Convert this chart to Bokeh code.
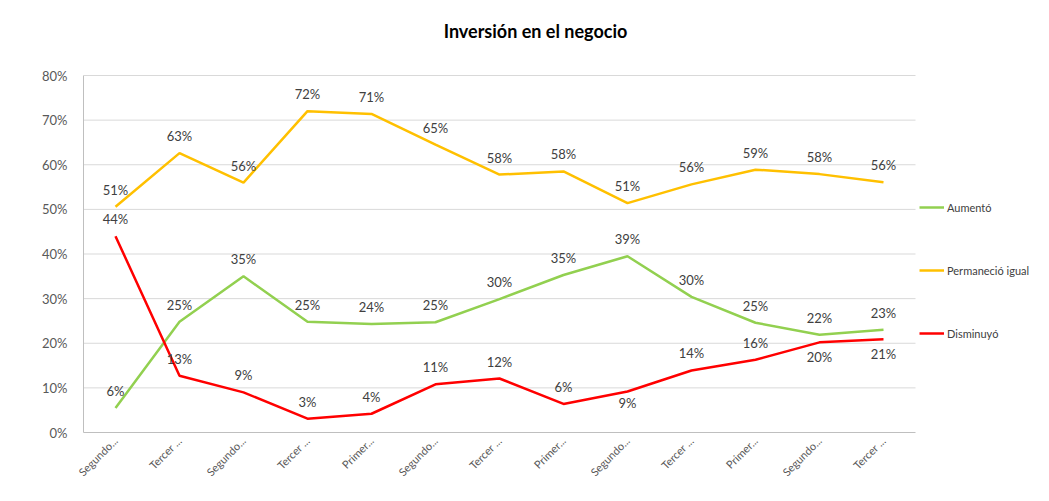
from bokeh.plotting import figure
from bokeh.models import ColumnDataSource, LabelSet, Label, Legend, LegendItem, NumeralTickFormatter, FixedTicker, Range1d
from bokeh.core.properties import value
from bokeh.embed import file_html
from bokeh.resources import INLINE
import math

title_text = "Inversión en el negocio"
categories = ["Segundo...", "Tercer ...", "Segundo...", "Tercer ...", "Primer...", "Segundo...",
              "Tercer ...", "Primer...", "Segundo...", "Tercer ...", "Primer...", "Segundo...", "Tercer ..."]
aumento = [5.5, 24.8, 35.0, 24.8, 24.3, 24.7, 29.9, 35.3, 39.5, 30.4, 24.6, 21.9, 23.0]
permanecio = [50.6, 62.6, 56.0, 72.0, 71.4, 64.5, 57.8, 58.5, 51.4, 55.6, 58.9, 57.9, 56.1]
disminuyo = [44.0, 12.7, 9.0, 3.1, 4.2, 10.8, 12.1, 6.4, 9.2, 13.9, 16.3, 20.2, 20.9]
aumento_lbl = ["6%", "25%", "35%", "25%", "24%", "25%", "30%", "35%", "39%", "30%", "25%", "22%", "23%"]
permanecio_lbl = ["51%", "63%", "56%", "72%", "71%", "65%", "58%", "58%", "51%", "56%", "59%", "58%", "56%"]
disminuyo_lbl = ["44%", "13%", "9%", "3%", "4%", "11%", "12%", "6%", "9%", "14%", "16%", "20%", "21%"]
y_ticks = [0.0, 0.1, 0.2, 0.3, 0.4, 0.5, 0.6, 0.7, 0.8]

# style: label vertical offsets in px (positive = up)
off_a = [17] * 13
off_p = [17] * 13
off_d = [17, 17, 17, 17, 17, 17, 17, 17, -12, 17, 17, -15, -15]

FONT = "Lato"
TXT = "#404040"
n = len(categories)
xs = list(range(n))

# layout (pixels)
W, H = 1033, 485
LEFT, PLOT_RIGHT, PLOT_TOP, BOTTOM_BORDER = 83, 915, 75, 53
FRAME_H = H - BOTTOM_BORDER
TITLE_CX, TITLE_CY = 535, 30
px_per_cat = (PLOT_RIGHT - LEFT) / n
x_end = -0.5 + (W - LEFT) / px_per_cat
y_top = y_ticks[-1]
y_end = y_top * FRAME_H / (FRAME_H - PLOT_TOP)

p = figure(width=W, height=H, output_backend="svg", toolbar_location=None,
           x_range=Range1d(-0.5, x_end), y_range=Range1d(0, y_end),
           min_border_left=LEFT, min_border_right=0, min_border_top=0, min_border_bottom=BOTTOM_BORDER)
p.outline_line_color = None
p.background_fill_color = "white"
p.border_fill_color = "white"
p.title.text = ""

p.add_layout(Label(x=-0.5 + (TITLE_CX - LEFT) / px_per_cat,
                   y=y_end * (FRAME_H - TITLE_CY) / FRAME_H,
                   text=title_text, text_align="center", text_baseline="middle",
                   text_font=FONT, text_font_size="18px", text_font_style="bold",
                   text_color="#000000"))

# horizontal gridlines limited to the plot area
p.xgrid.grid_line_color = None
p.ygrid.grid_line_color = None
gx0 = [-0.5] * (len(y_ticks) - 1)
gx1 = [n - 0.5] * (len(y_ticks) - 1)
p.segment(x0=gx0, y0=y_ticks[1:], x1=gx1, y1=y_ticks[1:], line_color="#d9d9d9", line_width=1)

p.yaxis.ticker = FixedTicker(ticks=y_ticks)
p.yaxis.bounds = (0, y_top)
p.yaxis.formatter = NumeralTickFormatter(format="0%")
p.xaxis.ticker = FixedTicker(ticks=xs)
p.xaxis.bounds = (-0.5, n - 0.5)
p.xaxis.major_label_overrides = {i: c for i, c in enumerate(categories)}
p.xaxis.major_label_orientation = math.pi / 4
for ax in (p.xaxis, p.yaxis):
    ax.axis_line_color = "#bfbfbf"
    ax.major_tick_line_color = None
    ax.minor_tick_line_color = None
    ax.major_label_text_font = FONT
    ax.major_label_text_font_size = "13px"
    ax.major_label_text_color = "#595959"
p.xaxis.major_label_text_font_size = "11px"
p.xaxis.major_label_standoff = 0
p.yaxis.major_label_standoff = 10

series = [
    ("Aumentó", aumento, aumento_lbl, off_a, "#92D050"),
    ("Permaneció igual", permanecio, permanecio_lbl, off_p, "#FFC000"),
    ("Disminuyó", disminuyo, disminuyo_lbl, off_d, "#FF0000"),
]
items = []
for name, vals, lbls, offs, color in series:
    src = ColumnDataSource(dict(x=xs, y=[v / 100 for v in vals], t=lbls, o=offs))
    r = p.line("x", "y", source=src, line_color=color, line_width=2.5)
    items.append(LegendItem(label=name, renderers=[r]))
    p.add_layout(LabelSet(x="x", y="y", text="t", y_offset="o", source=src,
                          text_align="center", text_baseline="middle",
                          text_font=value(FONT), text_font_size=value("13px"), text_color=TXT))

legend = Legend(items=items, location=(PLOT_RIGHT - LEFT + 4, FRAME_H - 343), orientation="vertical",
                spacing=43, glyph_width=25, glyph_height=20, label_standoff=3, padding=0, margin=0,
                label_text_font=FONT, label_text_font_size="11px", label_text_color=TXT,
                border_line_color=None, background_fill_alpha=0)
p.add_layout(legend, "center")

open("out.html", "w").write(file_html(p, INLINE))
